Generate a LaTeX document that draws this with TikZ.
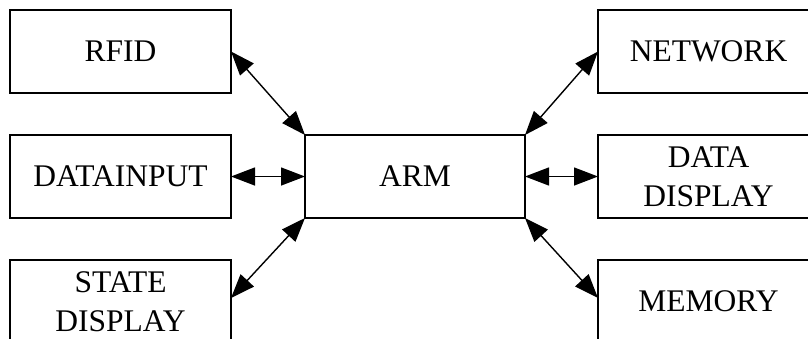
\documentclass[tikz,border=0pt]{standalone}
\usepackage{fontspec}
\setmainfont{Liberation Serif}
\usetikzlibrary{arrows.meta}
\begin{document}
\begin{tikzpicture}[x=1pt,y=-1pt,
  blk/.style={draw,line width=1.6pt,minimum width=221pt,minimum height=83pt,inner sep=0pt,outer sep=0pt,align=center,font=\fontsize{31.5}{39}\selectfont},
  conn/.style={line width=1.4pt,{Triangle[length=24pt,width=18pt]}-{Triangle[length=24pt,width=18pt]}}]
\useasboundingbox (0,0) rectangle (808,338);
\clip (0,0) rectangle (808,338);
\node[blk] (rfid) at (120.5,51.5) {RFID};
\node[blk] (din) at (120.5,176.5) {DATAINPUT};
\node[blk] (state) at (120.5,301.5) {STATE\\DISPLAY};
\node[blk,minimum width=220pt] (arm) at (415,176.5) {ARM};
\node[blk] (net) at (708.5,51.5) {NETWORK};
\node[blk] (ddisp) at (708.5,176.5) {DATA\\DISPLAY};
\node[blk] (mem) at (708.5,301.5) {MEMORY};
\draw[conn] (rfid.east) -- (arm.north west);
\draw[conn] (din.east) -- (arm.west);
\draw[conn] ([yshift=3.5pt]state.east) -- (arm.south west);
\draw[conn] (arm.north east) -- (net.west);
\draw[conn] (arm.east) -- (ddisp.west);
\draw[conn] (arm.south east) -- ([yshift=3.5pt]mem.west);
\end{tikzpicture}
\end{document}
